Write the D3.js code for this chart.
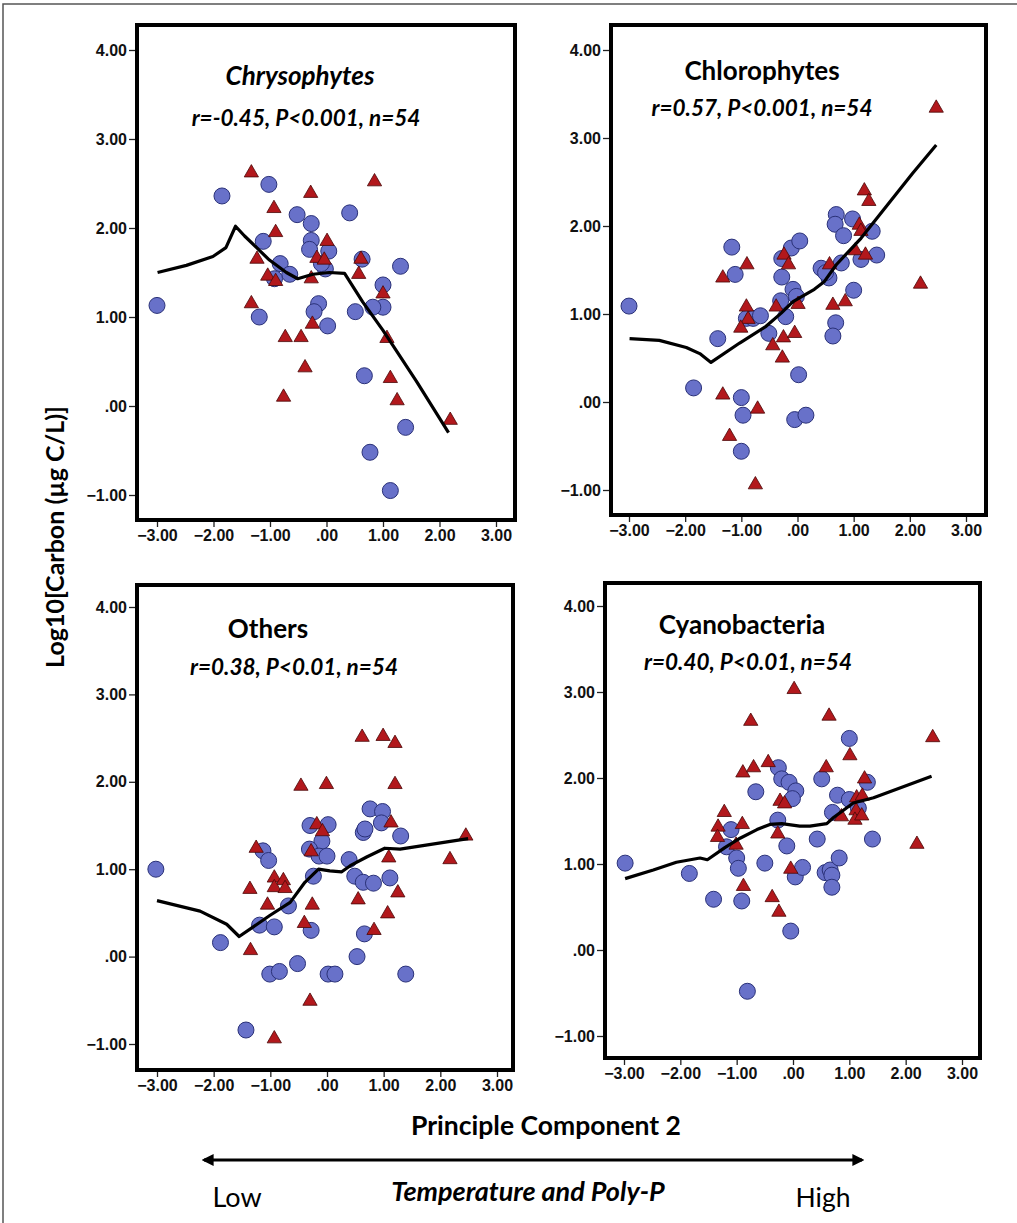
<!DOCTYPE html>
<html>
<head>
<meta charset="utf-8">
<script src="https://cdn.jsdelivr.net/npm/d3@7"></script>
<style>
  html, body { margin: 0; padding: 0; background: #ffffff; }
  svg { display: block; }
</style>
</head>
<body>
<svg id="chart" width="1017" height="1223"></svg>
<script>
// ---------------- DATA ----------------
const xTicks = [-3, -2, -1, 0, 1, 2, 3];
const yTicks = [4, 3, 2, 1, 0, -1];

const panelTitles = ["Chrysophytes", "Chlorophytes", "Others", "Cyanobacteria"];
const panelStats = ["r=-0.45, P<0.001, n=54", "r=0.57, P<0.001, n=54", "r=0.38, P<0.01, n=54", "r=0.40, P<0.01, n=54"];

// Chrysophytes
const chrysoCircles = [[-3.0,1.13],[-1.85,2.36],[-1.02,2.49],[-0.52,2.15],[-0.27,2.05],[-0.27,1.86],[-0.30,1.76],[0.04,1.74],[-1.12,1.85],[-0.82,1.60],[-0.65,1.48],[-0.92,1.43],[-0.02,1.54],[-0.09,1.60],[0.41,2.17],[0.63,1.65],[1.31,1.57],[1.00,1.36],[1.00,1.11],[0.82,1.11],[0.51,1.06],[-0.14,1.15],[-0.22,1.06],[0.02,0.90],[-1.19,1.00],[0.67,0.34],[1.40,-0.24],[0.77,-0.52],[1.13,-0.95]];
const chrysoTriangles = [[-1.33,2.62],[0.85,2.52],[-0.28,2.39],[-0.93,2.22],[-0.90,1.95],[0.01,1.85],[-1.23,1.65],[-0.17,1.66],[-0.04,1.64],[0.61,1.65],[-1.04,1.46],[-0.90,1.40],[-0.27,1.43],[0.57,1.48],[1.00,1.26],[-1.33,1.15],[-0.25,0.92],[-0.73,0.77],[-0.45,0.77],[1.07,0.76],[-0.38,0.43],[1.13,0.31],[-0.76,0.10],[1.25,0.06],[2.19,-0.16]];
const chrysoLine = [[-2.99,1.50],[-2.48,1.58],[-2.01,1.68],[-1.78,1.78],[-1.61,2.02],[-1.45,1.91],[-1.01,1.64],[-0.71,1.50],[-0.51,1.43],[-0.24,1.48],[0.05,1.50],[0.32,1.49],[0.64,1.17],[1.00,0.85],[1.59,0.28],[2.16,-0.30]];

// Chlorophytes
const chloroCircles = [[-3.00,1.09],[-1.85,0.16],[-1.42,0.72],[-1.17,1.76],[-1.11,1.45],[-1.00,0.05],[-0.97,-0.15],[-1.00,-0.56],[-0.91,0.95],[-0.79,0.95],[-0.66,0.98],[-0.51,0.78],[-0.28,1.63],[-0.28,1.42],[-0.30,1.15],[-0.21,0.97],[-0.11,1.75],[0.04,1.83],[-0.08,1.28],[-0.02,1.20],[0.02,0.31],[-0.05,-0.20],[0.15,-0.15],[0.42,1.52],[0.56,1.41],[0.69,2.13],[0.67,2.02],[0.78,1.58],[0.82,1.89],[0.98,2.08],[1.00,1.27],[0.68,0.90],[0.63,0.75],[1.13,1.62],[1.33,1.94],[1.41,1.67],[0.50,1.47]];
const chloroTriangles = [[2.47,3.34],[1.19,2.40],[1.27,2.28],[1.10,2.01],[1.13,1.94],[1.03,1.72],[1.21,1.67],[2.19,1.34],[0.57,1.56],[0.63,1.10],[0.85,1.14],[-0.90,1.56],[-1.33,1.41],[-0.24,1.67],[-0.16,1.56],[-0.38,1.08],[0.01,1.11],[-0.91,1.08],[-0.88,0.94],[-1.01,0.84],[-0.25,0.73],[-0.05,0.78],[-0.44,0.64],[-0.27,0.50],[-1.33,0.08],[-0.71,-0.08],[-1.21,-0.39],[-0.75,-0.94]];
const chloroLine = [[-2.99,0.72],[-2.46,0.70],[-1.98,0.62],[-1.74,0.55],[-1.54,0.45],[-1.03,0.67],[-0.56,0.86],[-0.29,1.01],[-0.08,1.14],[0.30,1.28],[0.48,1.37],[0.69,1.56],[1.13,1.86],[2.05,2.60],[2.47,2.92]];

// Others
const othersCircles = [[-3.02,1.00],[-1.88,0.16],[-1.43,-0.84],[-1.13,1.21],[-1.03,1.10],[-1.19,0.36],[-0.93,0.34],[-0.68,0.58],[-1.01,-0.20],[-0.84,-0.17],[-0.52,-0.08],[-0.30,1.50],[0.02,1.51],[-0.09,1.32],[-0.31,1.23],[-0.14,1.15],[0.00,1.15],[-0.24,0.92],[-0.28,0.30],[0.02,-0.20],[0.14,-0.20],[0.39,1.11],[0.49,0.92],[0.64,0.85],[0.82,0.84],[1.11,0.90],[1.30,1.38],[0.76,1.69],[0.98,1.66],[0.96,1.53],[0.64,1.42],[0.67,1.46],[0.66,0.26],[0.53,0.00],[1.39,-0.20]];
const othersTriangles = [[0.62,2.51],[0.99,2.52],[1.20,2.44],[1.20,1.97],[-0.46,1.95],[-0.01,1.97],[-0.18,1.51],[-0.08,1.43],[1.13,1.53],[-1.25,1.24],[-0.28,1.20],[1.09,1.13],[2.45,1.38],[2.17,1.11],[-0.93,0.90],[-0.77,0.87],[-0.93,0.79],[-0.74,0.78],[-1.36,0.77],[-1.05,0.59],[-0.26,0.59],[0.55,0.65],[1.25,0.73],[1.07,0.49],[-0.40,0.38],[0.83,0.30],[-1.35,0.07],[-0.30,-0.51],[-0.93,-0.94]];
const othersLine = [[-3.00,0.64],[-2.24,0.52],[-1.77,0.37],[-1.55,0.23],[-1.01,0.47],[-0.65,0.62],[-0.39,0.85],[-0.15,1.00],[0.05,0.98],[0.26,0.97],[0.41,1.04],[0.70,1.14],[1.02,1.24],[1.29,1.23],[2.49,1.35]];

// Cyanobacteria
const cyanoCircles = [[-2.98,1.01],[-1.84,0.89],[-1.41,0.59],[-1.10,1.40],[-1.18,1.20],[-1.00,1.07],[-0.97,0.95],[-0.91,0.57],[-0.81,-0.48],[-0.66,1.84],[-0.50,1.01],[-0.27,1.51],[-0.26,2.12],[-0.20,1.99],[-0.07,1.95],[0.05,1.85],[-0.01,1.76],[-0.11,1.21],[-0.04,0.22],[0.04,0.85],[0.17,0.96],[0.43,1.29],[0.51,1.99],[0.57,0.90],[0.66,0.93],[0.69,0.87],[0.69,0.73],[0.70,1.60],[0.79,1.80],[0.82,1.07],[1.00,1.75],[1.00,2.46],[1.32,1.95],[1.41,1.29],[1.16,1.65]];
const cyanoTriangles = [[0.02,3.03],[-0.75,2.66],[0.64,2.72],[2.48,2.47],[1.01,2.26],[-0.89,2.06],[-0.70,2.12],[-0.44,2.18],[0.59,2.12],[1.27,1.99],[-0.23,1.73],[-0.15,1.70],[1.13,1.77],[1.23,1.79],[1.12,1.62],[1.10,1.51],[1.22,1.56],[0.86,1.55],[-1.22,1.60],[-1.33,1.43],[-1.34,1.31],[-0.90,1.46],[-1.01,1.22],[-0.27,1.35],[2.20,1.23],[-0.04,0.94],[-0.88,0.74],[-0.37,0.61],[-0.25,0.44]];
const cyanoLine = [[-2.98,0.83],[-2.48,0.93],[-2.07,1.02],[-1.65,1.07],[-1.52,1.05],[-1.21,1.19],[-0.94,1.30],[-0.64,1.40],[-0.41,1.46],[-0.20,1.47],[0.12,1.44],[0.30,1.44],[0.60,1.47],[0.72,1.54],[1.07,1.71],[1.43,1.77],[2.46,2.02]];

// ---------------- LAYOUT ----------------
const panels = [
  { title: panelTitles[0], stats: panelStats[0], circles: chrysoCircles, triangles: chrysoTriangles, line: chrysoLine,
    frame: [137, 515, 25, 520], xr: [157, 496], yr: [50, 495], titleItalic: true,
    titlePos: [300, 85], statsPos: [306, 126] },
  { title: panelTitles[1], stats: panelStats[1], circles: chloroCircles, triangles: chloroTriangles, line: chloroLine,
    frame: [611, 986, 25, 515], xr: [629, 966], yr: [50, 490], titleItalic: false,
    titlePos: [762, 80], statsPos: [762, 116] },
  { title: panelTitles[2], stats: panelStats[2], circles: othersCircles, triangles: othersTriangles, line: othersLine,
    frame: [137, 513, 585, 1070], xr: [157, 497], yr: [607, 1044], titleItalic: false,
    titlePos: [268, 638], statsPos: [294, 675] },
  { title: panelTitles[3], stats: panelStats[3], circles: cyanoCircles, triangles: cyanoTriangles, line: cyanoLine,
    frame: [605, 980, 583, 1058], xr: [624, 962], yr: [606, 1036], titleItalic: false,
    titlePos: [742, 634], statsPos: [748, 670] }
];

const svg = d3.select("#chart");
const labelFont = "'Lato', 'Open Sans', 'Noto Sans', sans-serif";
const tickFont = "'Liberation Sans Narrow', 'Arial Narrow', 'Liberation Sans', Arial, sans-serif";

// outer figure border
svg.append("rect").attr("x", 3).attr("y", 4).attr("width", 1030).attr("height", 1240)
  .attr("fill", "none").attr("stroke", "#555").attr("stroke-width", 1.5);

const fmt = v => v === 0 ? ".00" : d3.format(".2f")(v);

panels.forEach(p => {
  const x = d3.scaleLinear().domain([-3, 3]).range(p.xr);
  const y = d3.scaleLinear().domain([4, -1]).range(p.yr);
  const [fx0, fx1, fy0, fy1] = p.frame;
  const g = svg.append("g");

  // axes
  const yAxis = d3.axisLeft(y).tickValues(yTicks).tickFormat(fmt).tickSize(8).tickSizeOuter(0).tickPadding(2);
  const xAxis = d3.axisBottom(x).tickValues(xTicks).tickFormat(fmt).tickSize(7).tickSizeOuter(0).tickPadding(3);
  const ya = g.append("g").attr("transform", `translate(${fx0},0)`).call(yAxis);
  const xa = g.append("g").attr("transform", `translate(0,${fy1})`).call(xAxis);
  [ya, xa].forEach(a => {
    a.select(".domain").remove();
    a.selectAll("line").attr("stroke", "#222").attr("stroke-width", 1.3);
    a.selectAll("text").attr("font-family", tickFont).attr("font-weight", "bold")
      .attr("font-size", 16).attr("fill", "#111");
  });

  // markers
  g.append("g").selectAll("circle").data(p.circles).join("circle")
    .attr("cx", d => x(d[0])).attr("cy", d => y(d[1])).attr("r", 8)
    .attr("fill", "#6871c9").attr("stroke", "#2a3178").attr("stroke-width", 1);

  const tri = d3.symbol().type(d3.symbolTriangle).size(88);
  g.append("g").selectAll("path").data(p.triangles).join("path")
    .attr("d", tri)
    .attr("transform", d => `translate(${x(d[0])},${y(d[1])})`)
    .attr("fill", "#b2181c").attr("stroke", "#4a0707").attr("stroke-width", 0.8);

  // smoother line
  const line = d3.line().x(d => x(d[0])).y(d => y(d[1]));
  g.append("path").datum(p.line).attr("d", line)
    .attr("fill", "none").attr("stroke", "#000").attr("stroke-width", 3.2).attr("stroke-linejoin", "round");

  // frame
  g.append("rect").attr("x", fx0).attr("y", fy0).attr("width", fx1 - fx0).attr("height", fy1 - fy0)
    .attr("fill", "none").attr("stroke", "#000").attr("stroke-width", 4);

  // titles
  g.append("text").attr("x", p.titlePos[0]).attr("y", p.titlePos[1]).attr("text-anchor", "middle")
    .attr("font-family", labelFont).attr("font-weight", "bold").attr("font-size", 26)
    .attr("font-style", p.titleItalic ? "italic" : "normal").attr("fill", "#000").text(p.title);
  g.append("text").attr("x", p.statsPos[0]).attr("y", p.statsPos[1]).attr("text-anchor", "middle")
    .attr("font-family", labelFont).attr("font-weight", "bold").attr("font-size", 22.5)
    .attr("font-style", "italic").attr("fill", "#000").text(p.stats);
});

// y-axis label
svg.append("text").attr("transform", "translate(64,537) rotate(-90)").attr("text-anchor", "middle")
  .attr("font-family", labelFont).attr("font-weight", "bold").attr("font-size", 25).attr("fill", "#000")
  .text("Log10[Carbon (µg C/L)]");

// x-axis label
svg.append("text").attr("x", 546).attr("y", 1135).attr("text-anchor", "middle")
  .attr("font-family", labelFont).attr("font-weight", "bold").attr("font-size", 26.5).attr("fill", "#000")
  .text("Principle Component 2");

// double arrow
const defs = svg.append("defs");
defs.append("marker").attr("id", "ah").attr("viewBox", "0 0 10 10").attr("refX", 8).attr("refY", 5)
  .attr("markerWidth", 4).attr("markerHeight", 4).attr("orient", "auto-start-reverse")
  .append("path").attr("d", "M0,0 L10,5 L0,10 z").attr("fill", "#000");
svg.append("line").attr("x1", 204).attr("x2", 862).attr("y1", 1160).attr("y2", 1160)
  .attr("stroke", "#000").attr("stroke-width", 3)
  .attr("marker-start", "url(#ah)").attr("marker-end", "url(#ah)");

svg.append("text").attr("x", 237).attr("y", 1207).attr("text-anchor", "middle")
  .attr("font-family", labelFont).attr("font-size", 27).attr("fill", "#000").text("Low");
svg.append("text").attr("x", 528).attr("y", 1201).attr("text-anchor", "middle")
  .attr("font-family", labelFont).attr("font-weight", "bold").attr("font-style", "italic")
  .attr("font-size", 27).attr("fill", "#000").text("Temperature and Poly-P");
svg.append("text").attr("x", 823).attr("y", 1207).attr("text-anchor", "middle")
  .attr("font-family", labelFont).attr("font-size", 26.5).attr("fill", "#000").text("High");
</script>
</body>
</html>
